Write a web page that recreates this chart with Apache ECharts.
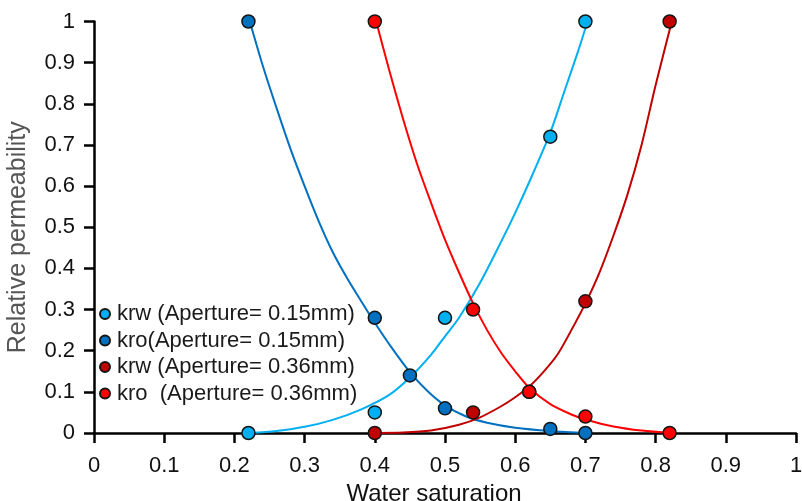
<!DOCTYPE html>
<html>
<head>
<meta charset="utf-8">
<title>Relative permeability</title>
<script src="https://cdn.jsdelivr.net/npm/echarts@6/dist/echarts.min.js"></script>
<style>
  html, body { margin: 0; padding: 0; background: #fff; }
  #chart { width: 802px; height: 501px; }
</style>
</head>
<body>
<div id="chart"></div>
<script>
// Axis ticks (both axes share 0 .. 1 in steps of 0.1)
const axisMin = 0;
const axisMax = 1;
const axisStep = 0.1;

// Legend labels
const seriesNames = [
  'krw (Aperture= 0.15mm)',
  'kro(Aperture= 0.15mm)',
  'krw (Aperture= 0.36mm)',
  'kro  (Aperture= 0.36mm)'
];

// Measured points [Sw, kr]
const krwSmall = [[0.22, 0], [0.4, 0.05], [0.5, 0.28], [0.65, 0.72], [0.7, 1]];
const kroSmall = [[0.22, 1], [0.4, 0.28], [0.45, 0.14], [0.5, 0.06], [0.65, 0.01], [0.7, 0]];
const krwLarge = [[0.4, 0], [0.54, 0.05], [0.62, 0.1], [0.7, 0.32], [0.82, 1]];
const kroLarge = [[0.4, 1], [0.54, 0.3], [0.62, 0.1], [0.7, 0.04], [0.82, 0]];

// Fitted curves [Sw, kr]
const krwSmallFit = [
  [0.222, 0], [0.26, 0.005], [0.30, 0.015], [0.34, 0.032], [0.38, 0.057],
  [0.42, 0.092], [0.45, 0.135], [0.48, 0.19], [0.50, 0.235], [0.52, 0.28],
  [0.55, 0.365], [0.58, 0.465], [0.60, 0.535], [0.62, 0.61], [0.65, 0.73],
  [0.67, 0.83], [0.69, 0.93], [0.703, 1.0]
];
const kroSmallFit = [
  [0.222, 1.0], [0.24, 0.895], [0.26, 0.79], [0.28, 0.69], [0.30, 0.6],
  [0.32, 0.515], [0.34, 0.44], [0.36, 0.378], [0.38, 0.322], [0.40, 0.268],
  [0.425, 0.205], [0.45, 0.148], [0.475, 0.102], [0.50, 0.067], [0.53, 0.04],
  [0.56, 0.025], [0.60, 0.013], [0.65, 0.005], [0.703, 0]
];
const krwLargeFit = [
  [0.402, 0], [0.44, 0.001], [0.48, 0.006], [0.52, 0.02], [0.55, 0.038],
  [0.58, 0.065], [0.60, 0.087], [0.62, 0.113], [0.64, 0.148], [0.66, 0.19],
  [0.68, 0.25], [0.70, 0.315], [0.72, 0.39], [0.74, 0.48], [0.76, 0.58],
  [0.78, 0.70], [0.80, 0.845], [0.823, 1.0]
];
const kroLargeFit = [
  [0.402, 1.0], [0.42, 0.885], [0.44, 0.765], [0.46, 0.655], [0.48, 0.56],
  [0.50, 0.47], [0.52, 0.39], [0.54, 0.315], [0.56, 0.25], [0.58, 0.195],
  [0.60, 0.15], [0.62, 0.11], [0.65, 0.07], [0.68, 0.045], [0.70, 0.033],
  [0.74, 0.016], [0.78, 0.006], [0.823, 0]
];

const colors = ['#00b0f0', '#0070c0', '#c00000', '#ff0000'];
const pointSets = [krwSmall, kroSmall, krwLarge, kroLarge];
const fitSets = [krwSmallFit, kroSmallFit, krwLargeFit, kroLargeFit];

const font = 'Liberation Sans, Arial, sans-serif';

const series = [];
fitSets.forEach((fit, i) => {
  series.push({
    name: 'fit' + i,
    type: 'line',
    data: fit,
    smooth: 0.3,
    showSymbol: false,
    clip: false,
    silent: true,
    z: 3,
    lineStyle: { color: colors[i], width: 2 }
  });
});
// draw order of markers: dark red, light blue, red, dark blue on top
[2, 0, 3, 1].forEach((i) => {
  series.push({
    name: seriesNames[i],
    type: 'scatter',
    data: pointSets[i],
    symbol: 'circle',
    symbolSize: 13,
    clip: false,
    z: 5,
    itemStyle: { color: colors[i], borderColor: '#151515', borderWidth: 1.5, opacity: 1 }
  });
});

const chart = echarts.init(document.getElementById('chart'), null, { renderer: 'canvas' });
chart.setOption({
  animation: false,
  backgroundColor: '#ffffff',
  grid: { left: 94, right: 6, top: 21.5, bottom: 68, containLabel: false, outerBoundsMode: 'none' },
  legend: {
    data: seriesNames,
    orient: 'vertical',
    left: 99,
    top: 303,
    icon: 'circle',
    itemWidth: 10,
    itemHeight: 10,
    itemGap: 4.5,
    padding: 0,
    selectedMode: false,
    textStyle: { fontFamily: font, fontSize: 22, color: '#1a1a1a', lineHeight: 22, padding: [0, 0, 0, 2] }
  },
  xAxis: {
    type: 'value',
    min: axisMin,
    max: axisMax,
    interval: axisStep,
    name: 'Water saturation',
    nameLocation: 'middle',
    nameGap: 44,
    nameTextStyle: { fontFamily: font, fontSize: 24, color: '#111', padding: [0, 22, 0, 0] },
    axisLine: { onZero: false, lineStyle: { color: '#000', width: 2.5 } },
    axisTick: { show: true, length: 10, inside: false, lineStyle: { color: '#000', width: 2.5 } },
    axisLabel: { fontFamily: font, fontSize: 22, color: '#111', margin: 22 },
    splitLine: { show: false }
  },
  yAxis: {
    type: 'value',
    min: axisMin,
    max: axisMax,
    interval: axisStep,
    name: 'Relative permeability',
    nameLocation: 'middle',
    nameGap: 63,
    nameRotate: 90,
    nameTextStyle: { fontFamily: font, fontSize: 25, color: '#555', padding: [0, 20, 0, 0] },
    axisLine: { onZero: false, lineStyle: { color: '#000', width: 2.5 } },
    axisTick: { show: true, length: 10, inside: false, lineStyle: { color: '#000', width: 2.5 } },
    axisLabel: { fontFamily: font, fontSize: 22, color: '#111', margin: 19 },
    splitLine: { show: false }
  },
  series: series
});
</script>
</body>
</html>
